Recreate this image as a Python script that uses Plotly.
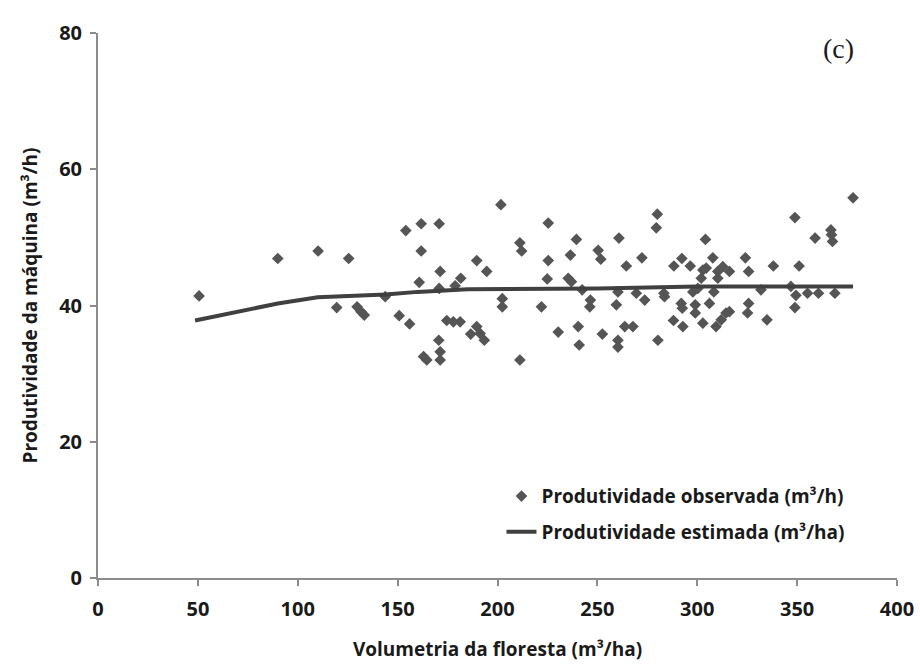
import plotly.graph_objects as go

obs_vol = [50.6, 90, 110.2, 119.5, 125.5, 129.7, 131.7, 133.3, 143.8, 150.8, 154.1, 156, 160.8, 161.8, 161.8,
           163, 164.6, 170.8, 171.3, 170.8, 170.6, 171.3, 171.3, 174.6, 177.9, 181.3, 178.8, 181.6, 186.6, 189.6,
           191.3, 193.4, 189.6, 194.6, 201.7, 202.4, 202.4, 211.2, 212.1, 211.2, 222, 225.4, 225.4, 224.9, 230.4,
           236.5, 235.4, 237, 239.5, 242.4, 246.5, 246.2, 240.4, 240.9, 250.4, 251.7, 252.5, 260.8, 260.3, 259.5,
           260.3, 260.3, 264.5, 263.7, 267.8, 269.5, 272.3, 273.7, 280, 279.5, 280.3, 283.3, 283.6, 288.3, 292.3,
           296.5, 288.1, 292.8, 292, 292.5, 297.8, 300.3, 299, 299, 302.8, 304.1, 302.8, 304.5, 302, 306.1,
           307.8, 308.3, 310.3, 312.8, 310.3, 309.4, 312, 314.4, 316.1, 316.1, 324.1, 325.7, 331.9, 325.7, 325.2,
           334.9, 338.1, 348.9, 346.9, 349.4, 348.9, 351, 355.2, 360.7, 359, 366.9, 367.2, 367.7, 368.9, 378]
obs_prod = [41.4, 46.9, 48.0, 39.7, 46.9, 39.8, 39.1, 38.6, 41.3, 38.5, 51.0, 37.3, 43.4, 52.0, 48.0,
            32.5, 32.0, 52.0, 45.0, 42.5, 34.9, 33.2, 32.0, 37.8, 37.6, 37.6, 42.9, 44.0, 35.8, 36.9,
            35.9, 34.9, 46.6, 45.0, 54.8, 41.0, 39.8, 49.2, 48.0, 32.0, 39.8, 52.1, 46.6, 43.9, 36.1,
            47.4, 44.0, 43.5, 49.7, 42.3, 40.8, 39.8, 36.9, 34.2, 48.1, 46.8, 35.8, 49.9, 42.0, 40.1,
            34.9, 33.9, 45.8, 36.9, 36.9, 41.8, 47.0, 40.8, 53.4, 51.4, 34.9, 41.8, 41.3, 45.8, 46.9,
            45.8, 37.8, 36.9, 40.3, 39.6, 42.0, 42.5, 40.1, 38.9, 37.4, 49.7, 45.2, 45.5, 44.0, 40.3,
            47.0, 42.0, 45.0, 45.7, 44.0, 36.9, 37.9, 38.9, 39.1, 45.0, 47.0, 45.0, 42.3, 40.3, 38.9,
            37.9, 45.8, 52.9, 42.8, 41.5, 39.7, 45.8, 41.8, 41.8, 49.9, 51.1, 50.4, 49.4, 41.8, 55.8]

est_vol = [48.6, 90, 110, 121, 144, 160, 185, 250, 300, 378]
est_prod = [37.8, 40.3, 41.2, 41.3, 41.6, 42.0, 42.4, 42.5, 42.8, 42.8]

x_ticks = [0, 50, 100, 150, 200, 250, 300, 350, 400]
y_ticks = [0, 20, 40, 60, 80]

FONT = "Open Sans"
TXT = "#1a1a1a"

fig = go.Figure()
fig.add_trace(go.Scatter(
    x=obs_vol, y=obs_prod, mode="markers", name="Produtividade observada (m³/h)",
    marker=dict(symbol="diamond", size=9, color="#555555"), legendgroup="a"))
fig.add_trace(go.Scatter(
    x=est_vol, y=est_prod, mode="lines", name="Produtividade estimada (m³/ha)",
    line=dict(color="#404040", width=4), legendgroup="b"))

axis_common = dict(showgrid=False, zeroline=False, showline=True, linecolor="#8c8c8c", linewidth=2,
                   ticks="outside", ticklen=6, tickcolor="#8c8c8c", tickwidth=2, automargin=False,
                   tickfont=dict(family=FONT, size=20, color=TXT, weight="bold"))

fig.update_xaxes(range=[0, 400], tickvals=x_ticks, ticklabelstandoff=6,
                 title=dict(text="Volumetria da floresta (m³/ha)",
                            font=dict(family=FONT, size=19, color=TXT, weight="bold"), standoff=22),
                 **axis_common)
fig.update_yaxes(range=[0, 80], tickvals=y_ticks, ticklabelstandoff=4,
                 title=dict(text="Produtividade da máquina (m³/h)",
                            font=dict(family=FONT, size=19, color=TXT, weight="bold"), standoff=16),
                 **axis_common)

fig.add_annotation(text="(c)", xref="paper", yref="paper", x=0.927, y=0.972, xanchor="center", yanchor="middle",
                   showarrow=False, font=dict(family="Liberation Serif", size=28, color=TXT))

fig.update_layout(
    width=920, height=665,
    margin=dict(l=98, r=23, t=33, b=87),
    plot_bgcolor="white", paper_bgcolor="white",
    legend=dict(x=0.505, y=0.185, xanchor="left", yanchor="top", traceorder="grouped", tracegroupgap=8,
                font=dict(family=FONT, size=19, color=TXT, weight="bold"), bgcolor="rgba(0,0,0,0)"),
)

fig.write_html("out.html")
